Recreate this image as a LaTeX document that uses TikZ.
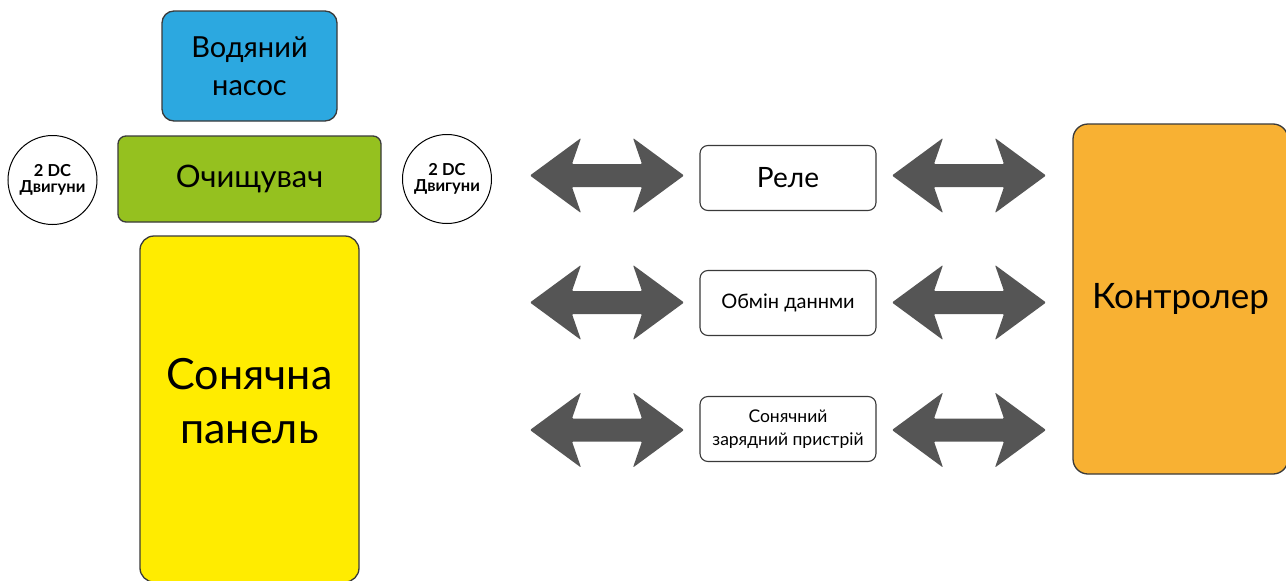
\documentclass[tikz,border=0pt]{standalone}
\usepackage{fontspec}
\setmainfont{Lato}
\definecolor{pumpblue}{HTML}{2CA8E0}
\definecolor{cleangreen}{HTML}{95C11F}
\definecolor{panelyellow}{HTML}{FFEC00}
\definecolor{ctrlorange}{HTML}{F8B133}
\definecolor{arrowgray}{HTML}{555555}
\definecolor{edgegray}{HTML}{3A3A3A}
\tikzset{
  blockbox/.style={draw=edgegray, line width=1.3pt, rounded corners=12pt, inner sep=0pt, align=center, text=black},
  motor/.style={draw=black, line width=1pt, circle, minimum size=89pt, inner sep=0pt, align=center, font=\bfseries\fontsize{16.5}{17}\selectfont},
  smallbox/.style={draw=edgegray, line width=1.1pt, rounded corners=8pt, minimum width=176pt, minimum height=65pt, inner sep=0pt, align=center},
  dblarrow/.pic={\fill[arrowgray, rounded corners=1pt] (-77,0) -- (-26,-37.5) -- (-35,-11.5) -- (35,-11.5) -- (26,-37.5) -- (77,0) -- (26,37.5) -- (35,11.5) -- (-35,11.5) -- (-26,37.5) -- cycle;}
}
\begin{document}
\begin{tikzpicture}[x=1pt,y=-1pt]
\useasboundingbox (0,0) rectangle (1286,581);
\clip (0,0) rectangle (1286,581);
\fill[white] (0,0) rectangle (1286,581);
% pump
\node[blockbox, fill=pumpblue, minimum width=175pt, minimum height=110pt, font=\fontsize{29}{38}\selectfont] (pump) at (249.5,66) {Водяний\\насос};
% cleaner
\node[blockbox, fill=cleangreen, rounded corners=8pt, minimum width=263pt, minimum height=86pt, font=\fontsize{31}{38}\selectfont] (cleaner) at (249.5,179) {Очищувач};
% motors
\node[motor] (motorL) at (52.5,180) {2 DC\\[-1pt]Двигуни};
\node[motor] (motorR) at (447,179) {2 DC\\[-1pt]Двигуни};
% solar panel
\node[blockbox, fill=panelyellow, rounded corners=14pt, minimum width=219pt, minimum height=346pt] (panel) at (249.5,409) {};
\node[align=center, inner sep=0pt, font=\fontsize{43}{54}\selectfont] (paneltext) at (249.5,401) {Сонячна\\панель};
% middle boxes
\node[smallbox, font=\fontsize{28}{32}\selectfont] (relay) at (788,178) {Реле};
\node[smallbox, font=\fontsize{20}{24}\selectfont] (data) at (788,303) {Обмін даннми};
\node[smallbox, font=\fontsize{17.5}{23}\selectfont] (charger) at (788,429) {Сонячний\\зарядний пристрій};
% controller
\node[blockbox, fill=ctrlorange, rounded corners=15pt, minimum width=215pt, minimum height=350pt, font=\fontsize{35}{40}\selectfont] (ctrl) at (1180.5,299) {Контролер};
% arrows
\pic at (607,175.5) {dblarrow};
\pic at (607,302.5) {dblarrow};
\pic at (607,430) {dblarrow};
\pic at (969,175.5) {dblarrow};
\pic at (969,302.5) {dblarrow};
\pic at (969,430) {dblarrow};
\end{tikzpicture}
\end{document}
